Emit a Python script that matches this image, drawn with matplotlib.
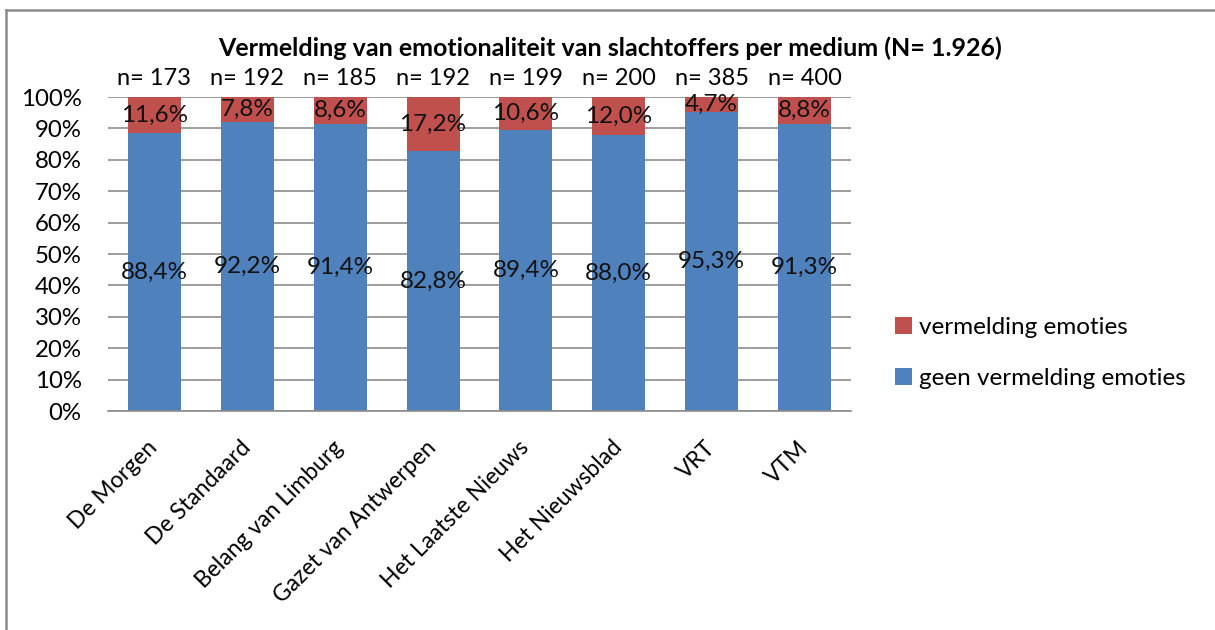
import numpy as np
import matplotlib
matplotlib.use('Agg')
import matplotlib.pyplot as plt
from matplotlib.lines import Line2D

plt.rcParams['font.family'] = ['Lato', 'DejaVu Sans']

# Data
media = ['De Morgen', 'De Standaard', 'Belang van Limburg', 'Gazet van Antwerpen',
         'Het Laatste Nieuws', 'Het Nieuwsblad', 'VRT', 'VTM']
n_values = [173, 192, 185, 192, 199, 200, 385, 400]
geen_emoties = [88.4, 92.2, 91.4, 82.8, 89.4, 88.0, 95.3, 91.3]
met_emoties = [11.6, 7.8, 8.6, 17.2, 10.6, 12.0, 4.7, 8.8]

blue = '#4F81BD'
red = '#C0504D'
grid = '#8C8C8C'

fig = plt.figure(figsize=(12.15, 6.3), dpi=100)
ax = fig.add_axes([0.0889, 0.3476, 0.6115, 0.4984])

x = np.arange(len(media))
b1 = ax.bar(x, geen_emoties, width=0.57, color=blue, zorder=2,
            label='geen vermelding emoties')
b2 = ax.bar(x, met_emoties, width=0.57, bottom=geen_emoties, color=red, zorder=2,
            label='vermelding emoties')

# data labels centred in each segment
for i in range(len(media)):
    ax.text(x[i], geen_emoties[i] / 2, f'{geen_emoties[i]:.1f}%'.replace('.', ','),
            ha='center', va='center', fontsize=17.5, color='#111111', zorder=3)
    ax.text(x[i], geen_emoties[i] + met_emoties[i] / 2,
            f'{met_emoties[i]:.1f}%'.replace('.', ','),
            ha='center', va='center', fontsize=17.5, color='#111111', zorder=3)
    ax.text(x[i], 106, f'n= {n_values[i]}', ha='center', va='center',
            fontsize=17, color='black', clip_on=False)

ax.set_xlim(-0.5, len(media) - 0.5)
ax.set_ylim(0, 100)
ax.set_yticks(np.arange(0, 101, 10))
ax.set_yticklabels([f'{v}%' for v in range(0, 101, 10)], fontsize=17.3)
ax.yaxis.grid(True, color=grid, linewidth=1.2, zorder=0)
ax.set_axisbelow(True)
ax.tick_params(axis='y', length=0, pad=19)
ax.tick_params(axis='x', length=0, pad=24)
ax.set_xticks(x)
ax.set_xticklabels(media, rotation=45, ha='right', va='center',
                   rotation_mode='anchor', fontsize=16.5)
for s in ['top', 'right', 'left']:
    ax.spines[s].set_visible(False)
ax.spines['bottom'].set_color(grid)
ax.spines['bottom'].set_linewidth(1.2)

fig.text(0.502, 0.924, 'Vermelding van emotionaliteit van slachtoffers per medium (N= 1.926)',
         ha='center', va='center', fontsize=18, fontweight='bold')

fig.legend(handles=[b2, b1], labels=['vermelding emoties', 'geen vermelding emoties'],
           loc='upper left', bbox_to_anchor=(0.7185, 0.532), frameon=False,
           fontsize=17.5, handlelength=0.7, handleheight=0.7, handletextpad=0.3,
           labelspacing=1.25)

# outer frame (top and left edges)
fig.add_artist(Line2D([0.005, 1.0], [0.984, 0.984], color=grid, linewidth=1.8,
                      transform=fig.transFigure))
fig.add_artist(Line2D([0.005, 0.005], [0.0, 0.984], color=grid, linewidth=1.8,
                      transform=fig.transFigure))

fig.savefig('out.png', dpi=100)
